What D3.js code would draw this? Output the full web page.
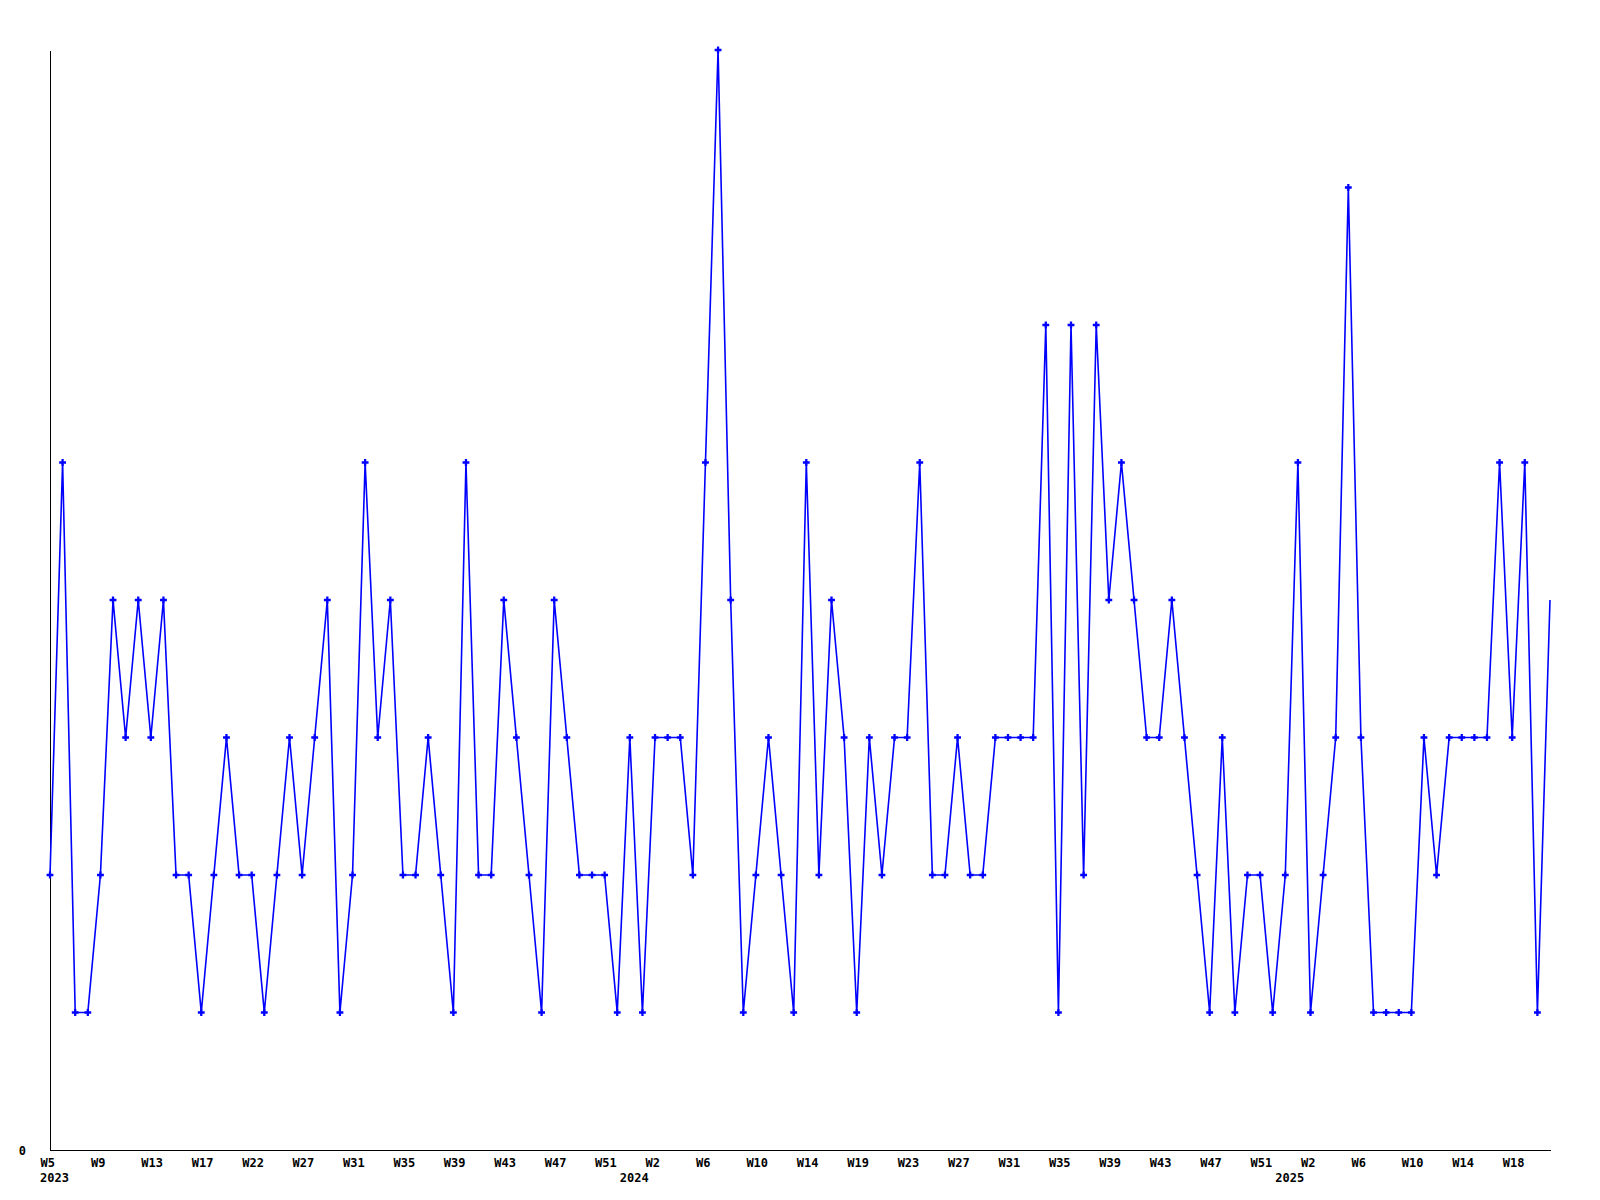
<!DOCTYPE html>
<html>
<head>
<meta charset="utf-8">
<script src="https://cdn.jsdelivr.net/npm/d3@7"></script>
<style>
  html, body { margin: 0; padding: 0; background: #fff; }
  svg { display: block; }
  text { font-family: "DejaVu Sans Mono", "Liberation Mono", monospace; font-weight: bold; font-size: 12px; fill: #000; }
</style>
</head>
<body>
<svg id="chart" width="1600" height="1200"></svg>
<script>
// Weekly counts, one per data point
const values = [
  2,5,1,1,2,4,3,4,3,4,
  2,2,1,2,3,2,2,1,2,3,
  2,3,4,1,2,5,3,4,2,2,
  3,2,1,5,2,2,4,3,2,1,
  4,3,2,2,2,1,3,1,3,3,
  3,2,5,8,4,1,2,3,2,1,
  5,2,4,3,1,3,2,3,3,5,
  2,2,3,2,2,3,3,3,3,6,
  1,6,2,6,4,5,4,3,3,4,
  3,2,1,3,1,2,2,1,2,5,
  1,2,3,7,3,1,1,1,1,3,
  2,3,3,3,3,5,3,5,1,4
];
// Week tick labels, shown every 4th point
const weekLabels = [
  "W5","W9","W13","W17","W22","W27","W31","W35","W39","W43","W47","W51",
  "W2","W6","W10","W14","W19","W23","W27","W31","W35","W39","W43","W47","W51",
  "W2","W6","W10","W14","W18"
];
const weekTickStep = 4;
// Year labels and the point index where each year starts
const yearLabels = ["2023","2024","2025"];
const yearIndex = [0, 46, 98];
const yTicks = [0];
const yMax = 8;

const svg = d3.select("#chart");
const mLeft = 50, mRight = 1550, mTop = 50, mBottom = 1150;

const x = d3.scaleLinear().domain([0, values.length - 1]).range([mLeft, mRight]);
const y = d3.scaleLinear().domain([0, yMax]).range([mBottom, mTop]);

const tickIdx = weekLabels.map((_, i) => i * weekTickStep);
const fontCss = "'DejaVu Sans Mono', monospace";

// X axis
const xAxis = svg.append("g")
  .attr("transform", `translate(0,${mBottom})`)
  .call(d3.axisBottom(x).tickValues(tickIdx).tickFormat((d, i) => weekLabels[i]).tickSize(0).tickSizeOuter(0));
xAxis.select(".domain").attr("stroke", "#000").attr("shape-rendering", "crispEdges");
xAxis.selectAll(".tick text").attr("text-anchor", "start").attr("dx", -10).attr("y", 17).attr("dy", 0)
  .attr("fill", "#000")
  .style("font-family", fontCss).style("font-weight", "bold").style("font-size", "12px");

// Year labels
xAxis.selectAll(".year").data(yearLabels).enter().append("text")
  .attr("class", "year")
  .attr("x", (d, i) => x(yearIndex[i]) - 10)
  .attr("y", 32)
  .attr("text-anchor", "start")
  .text(d => d);

// Y axis
const yAxis = svg.append("g")
  .attr("transform", `translate(${mLeft},0)`)
  .call(d3.axisLeft(y).tickValues(yTicks).tickFormat(d3.format("d")).tickSize(0).tickSizeOuter(0));
yAxis.select(".domain").attr("stroke", "#000").attr("shape-rendering", "crispEdges");
yAxis.selectAll(".tick text").attr("x", -24).attr("dy", "0.35em").attr("text-anchor", "end")
  .attr("fill", "#000")
  .style("font-family", fontCss).style("font-weight", "bold").style("font-size", "12px");

// Line
const line = d3.line().x((d, i) => x(i)).y(d => y(d));
svg.append("path")
  .datum(values)
  .attr("fill", "none")
  .attr("stroke", "#0000ff")
  .attr("stroke-width", 1.6)
  .attr("d", line);

// Markers
const sym = d3.symbol().type(d3.symbolCross).size(26);
svg.append("g").selectAll("path")
  .data(values.map((v, i) => ({ v, i })).filter(d => d.i < values.length - 1))
  .enter().append("path")
  .attr("d", sym)
  .attr("fill", "#0000ff")
  .attr("transform", d => `translate(${x(d.i)},${y(d.v)})`);
</script>
</body>
</html>
